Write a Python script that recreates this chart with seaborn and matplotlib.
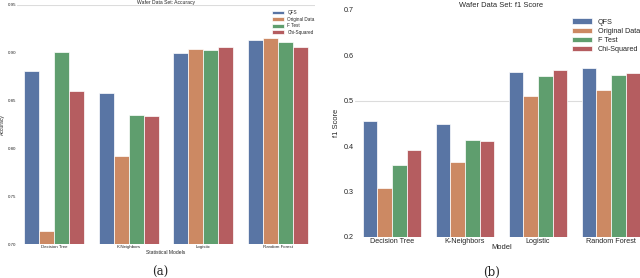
import pandas as pd
import matplotlib
matplotlib.use("Agg")
import matplotlib.pyplot as plt
import seaborn as sns

# values
models = ["Decision Tree", "K-Neighbors", "Logistic", "Random Forest"]
methods = ["QFS", "Original Data", "F Test", "Chi-Squared"]

acc_qfs = [0.881, 0.858, 0.900, 0.913]
acc_original = [0.714, 0.792, 0.904, 0.915]
acc_ftest = [0.901, 0.835, 0.903, 0.911]
acc_chi = [0.860, 0.834, 0.906, 0.906]

f1_qfs = [0.455, 0.448, 0.564, 0.573]
f1_original = [0.307, 0.364, 0.511, 0.523]
f1_ftest = [0.358, 0.413, 0.555, 0.557]
f1_chi = [0.391, 0.411, 0.567, 0.561]


def to_long(series, value_name):
    rows = []
    for method, vals in zip(methods, series):
        for model, v in zip(models, vals):
            rows.append({"Model": model, "Method": method, value_name: v})
    return pd.DataFrame(rows)


df_acc = to_long([acc_qfs, acc_original, acc_ftest, acc_chi], "Accuracy")
df_f1 = to_long([f1_qfs, f1_original, f1_ftest, f1_chi], "f1 Score")

sns.set_theme(style="white", palette="deep")
plt.rcParams["font.family"] = ["Liberation Sans", "DejaVu Sans"]

fig = plt.figure(figsize=(6.4, 2.78), dpi=100)
W, H = 640, 278
grid_col = "#dcdcdc"

# Left panel: accuracy
ax1 = fig.add_axes([17 / W, (H - 244) / H, 298 / W, 239 / H])
sns.barplot(data=df_acc, x="Model", y="Accuracy", hue="Method", ax=ax1,
            linewidth=0.5, edgecolor="white")
ax1.set_ylim(0.70, 0.95)
ax1.set_yticks([0.70, 0.75, 0.80, 0.85, 0.90, 0.95])
ax1.axhline(0.95, color=grid_col, lw=0.8, zorder=0)
ax1.tick_params(axis="both", labelsize=3.2, pad=0.8, length=0)
ax1.set_title("Wafer Data Set: Accuracy", fontsize=3.6, pad=0.5)
ax1.set_xlabel("Statistical Models", fontsize=3.6, labelpad=0.5)
ax1.set_ylabel("Accuracy", fontsize=3.6, labelpad=1.5)
for s in ax1.spines.values():
    s.set_visible(False)
ax1.legend(loc="upper left", bbox_to_anchor=(268 / W, 1 - 6 / H),
           bbox_transform=fig.transFigure, fontsize=3.3, frameon=True,
           handlelength=2.5, handleheight=0.9, labelspacing=0.35,
           borderpad=0.4, edgecolor="white", framealpha=1)

# Right panel: f1 score
ax2 = fig.add_axes([355.4 / W, (H - 236.7) / H, 292 / W, 226.7 / H])
sns.barplot(data=df_f1, x="Model", y="f1 Score", hue="Method", ax=ax2,
            linewidth=0.5, edgecolor="white")
ax2.set_ylim(0.2, 0.7)
ax2.set_yticks([0.2, 0.3, 0.4, 0.5, 0.6, 0.7])
ax2.axhline(0.5, color=grid_col, lw=0.8, zorder=0)
ax2.tick_params(axis="both", labelsize=5.2, pad=1, length=0)
ax2.set_title("Wafer Data Set: f1 Score", fontsize=5.4, pad=2)
ax2.set_xlabel("Model", fontsize=5.4, labelpad=-1)
ax2.set_ylabel("f1 Score", fontsize=5.4, labelpad=3)
for s in ax2.spines.values():
    s.set_visible(False)
ax2.legend(loc="upper left", bbox_to_anchor=(565 / W, 1 - 12 / H),
           bbox_transform=fig.transFigure, fontsize=5.2, frameon=True,
           handlelength=2.8, handleheight=0.8, labelspacing=0.25,
           borderpad=0.4, edgecolor="white", framealpha=1)

# sub-figure captions
fig.text(160 / W, 1 - 272 / H, "(a)", ha="center", va="center",
         fontsize=8.5, family="DejaVu Serif")
fig.text(492 / W, 1 - 272 / H, "(b)", ha="center", va="center",
         fontsize=8.5, family="DejaVu Serif")

fig.savefig("out.png", dpi=100)
